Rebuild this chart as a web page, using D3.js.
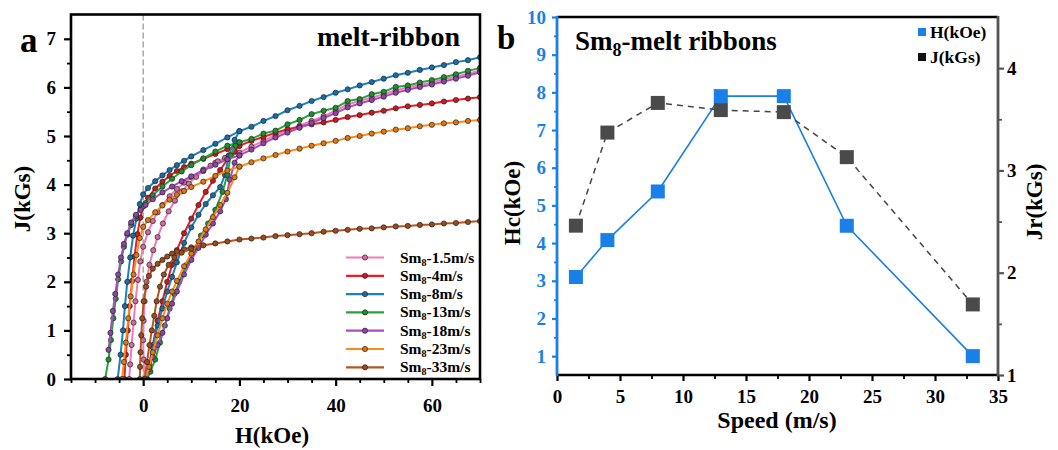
<!DOCTYPE html>
<html>
<head>
<meta charset="UTF-8">
<script src="https://d3js.org/d3.v7.min.js"></script>
<style>
  body { margin: 0; background: #fff; }
  svg text { font-family: "Liberation Serif", "Times New Roman", serif; font-weight: bold; }
</style>
</head>
<body>
<svg id="chart" width="1058" height="450"></svg>
<script>
// ---- data: panel a (J vs H loops) ----
var speedLabels = ["1.5", "4", "8", "13", "18", "23", "33"];

// high-field part of the demag branch, shared H grid (kOe)
var hGrid = [20, 22.5, 25, 27.5, 30, 32.5, 35, 37.5, 40, 42.5, 45, 47.5, 50, 52.5, 55, 57.5, 60, 62.5, 65, 67.5, 70];
var jHigh = [
  [4.66, 4.78, 4.90, 5.02, 5.11, 5.21, 5.31, 5.41, 5.52, 5.65, 5.72, 5.79, 5.86, 5.94, 6.00, 6.05, 6.10, 6.17, 6.22, 6.28, 6.35],
  [4.80, 4.90, 4.98, 5.07, 5.14, 5.19, 5.24, 5.28, 5.33, 5.39, 5.43, 5.48, 5.52, 5.57, 5.61, 5.64, 5.67, 5.71, 5.74, 5.77, 5.80],
  [5.10, 5.19, 5.31, 5.41, 5.53, 5.62, 5.72, 5.80, 5.89, 5.96, 6.04, 6.11, 6.18, 6.25, 6.30, 6.36, 6.41, 6.46, 6.52, 6.56, 6.62],
  [4.87, 4.94, 5.05, 5.11, 5.24, 5.33, 5.45, 5.52, 5.58, 5.72, 5.76, 5.86, 5.91, 6.01, 6.04, 6.10, 6.15, 6.21, 6.27, 6.34, 6.40],
  [4.60, 4.72, 4.85, 4.97, 5.07, 5.17, 5.27, 5.37, 5.47, 5.59, 5.67, 5.74, 5.81, 5.89, 5.95, 6.01, 6.06, 6.12, 6.18, 6.24, 6.31],
  [4.37, 4.46, 4.54, 4.61, 4.68, 4.74, 4.80, 4.85, 4.90, 4.96, 5.00, 5.05, 5.09, 5.13, 5.16, 5.20, 5.23, 5.26, 5.28, 5.31, 5.33],
  [2.87, 2.89, 2.91, 2.94, 2.96, 2.98, 3.00, 3.03, 3.05, 3.07, 3.09, 3.10, 3.12, 3.14, 3.15, 3.17, 3.18, 3.20, 3.21, 3.23, 3.25]
];

// low-field part of the demag branch [H, J]
var demagLow = [
  [[17.5,4.56],[15,4.45],[12.5,4.31],[10,4.15],[8.5,4.04],[7,3.91],[5.5,3.76],[4,3.58],[3,3.43],[2,3.25],[1,3.02],[0,2.72],[-0.6,2.42],[-1.1,2.04],[-1.6,1.6],[-2,1.16],[-2.4,0.7],[-2.7,0.3],[-2.9,0]],
  [[17.5,4.73],[15,4.63],[12.5,4.53],[10,4.43],[8.5,4.36],[7,4.28],[5.5,4.18],[4,4.06],[2.5,3.92],[1,3.73],[0,3.55],[-0.6,3.32],[-1.2,2.98],[-1.8,2.52],[-2.3,2.02],[-2.8,1.5],[-3.2,1.0],[-3.6,0.5],[-3.9,0]],
  [[17.5,4.97],[15,4.84],[12.5,4.71],[10,4.58],[8.5,4.49],[7,4.4],[5.5,4.3],[4,4.19],[2.5,4.07],[1,3.93],[0,3.8],[-0.7,3.6],[-1.4,3.3],[-2.1,2.95],[-2.7,2.5],[-3.3,2.0],[-3.8,1.5],[-4.2,1.0],[-4.7,0.5],[-5.3,0]],
  [[17.5,4.8],[15,4.68],[12.5,4.54],[10,4.4],[8,4.27],[6,4.12],[4,3.96],[2,3.78],[0.5,3.62],[-0.5,3.5],[-1.5,3.35],[-2.5,3.17],[-3.3,2.97],[-4,2.72],[-4.6,2.42],[-5.2,2.05],[-5.7,1.65],[-6.2,1.25],[-6.7,0.8],[-7.2,0.4],[-7.9,0]],
  [[17.5,4.52],[15,4.41],[12.5,4.29],[10,4.17],[8,4.07],[6,3.96],[4,3.84],[2,3.7],[0.5,3.58],[-0.5,3.48],[-1.5,3.38],[-2.5,3.22],[-3.3,3.0],[-4,2.78],[-4.6,2.5],[-5.2,2.15],[-5.8,1.75],[-6.3,1.4],[-6.8,0.95],[-7.2,0.6]],
  [[17.5,4.29],[15,4.18],[12.5,4.06],[10,3.95],[8.5,3.87],[7,3.79],[5.5,3.69],[4,3.57],[2.5,3.43],[1,3.27],[0,3.13],[-0.7,2.9],[-1.4,2.55],[-2,2.15],[-2.6,1.7],[-3.1,1.25],[-3.6,0.75],[-4,0.35],[-4.4,0]],
  [[17.5,2.83],[15,2.79],[12.5,2.75],[10,2.71],[8.5,2.67],[7,2.62],[6,2.58],[5,2.52],[4,2.45],[3,2.37],[2,2.27],[1.2,2.12],[0.6,1.9],[0.1,1.6],[-0.2,1.25],[-0.4,0.9],[-0.55,0.55],[-0.65,0.25],[-0.7,0]]
];

// initial magnetization branch [H, J]
var initBranch = [
  [[0.3,0],[0.1,0.4],[0,0.8],[0.1,1.2],[0.3,1.6],[0.7,2.0],[1.3,2.35],[2.1,2.65],[3,2.92],[4.1,3.2],[5.3,3.45],[6.6,3.67],[8,3.86],[9.5,4.02],[11,4.16],[12.5,4.28],[14,4.39],[15.5,4.48],[17,4.55]],
  [[0.5,0],[1.2,0.25],[2,0.7],[3,1.2],[4,1.6],[5,2.0],[6,2.35],[7,2.65],[8.5,3.0],[10,3.3],[11.5,3.58],[13,3.85],[14.5,4.08],[16,4.3],[17.5,4.52],[19,4.68],[20,4.8]],
  [[0.8,0],[1.3,0.3],[2,0.65],[3,1.1],[4,1.45],[5,1.8],[6,2.1],[7,2.4],[8.5,2.8],[10,3.12],[11.5,3.38],[13,3.6],[14.5,3.78],[16,3.95],[17,4.2],[17.8,4.6],[19,4.92],[20,5.1]],
  [[0.8,0],[1.5,0.15],[2.5,0.4],[3.5,0.75],[4.5,1.1],[5.5,1.45],[6.5,1.75],[7.5,2.0],[9,2.35],[10.5,2.65],[12,2.95],[13.5,3.2],[15,3.48],[16.5,3.85],[17.5,4.2],[18.2,4.6],[19.2,4.8],[20,4.87]],
  [[0.5,0],[1.2,0.2],[2,0.45],[3,0.7],[4,0.95],[5,1.25],[6,1.55],[7,1.8],[8.5,2.15],[10,2.45],[11.5,2.7],[13,2.97],[14.5,3.2],[16,3.45],[17.2,3.7],[18,4.1],[19,4.45],[20,4.6]],
  [[0.5,0],[1.2,0.25],[2,0.55],[3,0.9],[4,1.25],[5,1.55],[6,1.8],[7,2.02],[8.5,2.32],[10,2.58],[11.5,2.83],[13,3.08],[14.5,3.33],[16,3.58],[17.5,3.83],[19,4.15],[20,4.37]],
  [[0.3,0],[0.8,0.35],[1.3,0.7],[1.8,1.0],[2.3,1.3],[2.8,1.6],[3.5,1.9],[4.3,2.15],[5.3,2.35],[6.5,2.5],[8,2.6],[10,2.68]]
];

// ---- data: panel b ----
var speeds = [1.5, 4, 8, 13, 18, 23, 33];
var hcValues = [3.1, 4.08, 5.37, 7.9, 7.9, 4.46, 1.0];
var jrValues = [2.46, 3.37, 3.66, 3.59, 3.57, 3.13, 1.69];

var seriesColors = ["#f37ab8", "#ec1c24", "#1b80c2", "#25a53a", "#a64ebd", "#ff8a16", "#b4561f"];
var blue = "#1a7fe6";
var grey = "#4a4a4a";

var svg = d3.select("#chart");

// ================= panel a =================
var xA = d3.scaleLinear().domain([-15, 70]).range([71, 480]);
var yA = d3.scaleLinear().domain([0, 7.5]).range([379, 14.5]);

svg.append("clipPath").attr("id", "clipA")
  .append("rect").attr("x", xA(-15)).attr("y", yA(7.5))
  .attr("width", xA(70) - xA(-15)).attr("height", yA(0) - yA(7.5));

svg.append("line")
  .attr("x1", xA(0)).attr("x2", xA(0)).attr("y1", yA(7.5)).attr("y2", yA(0))
  .attr("stroke", "#9a9a9a").attr("stroke-width", 1.3).attr("stroke-dasharray", "6,3");

var lineA = d3.line().x(function(d) { return xA(d[0]); }).y(function(d) { return yA(d[1]); });
var curves = svg.append("g").attr("clip-path", "url(#clipA)");

speedLabels.forEach(function(s, i) {
  var hi = hGrid.map(function(h, k) { return [h, jHigh[i][k]]; }).reverse();
  var demag = hi.concat(demagLow[i]);
  var c = seriesColors[i];
  [demag, initBranch[i]].forEach(function(pts) {
    curves.append("path").datum(pts)
      .attr("d", lineA).attr("fill", "none")
      .attr("stroke", c).attr("stroke-width", 2);
    curves.selectAll(null).data(pts).enter().append("circle")
      .attr("cx", function(d) { return xA(d[0]); })
      .attr("cy", function(d) { return yA(d[1]); })
      .attr("r", 2.6)
      .attr("fill", d3.color(c).darker(0.4))
      .attr("stroke", "#222").attr("stroke-width", 0.7);
  });
});

// axes a
function styleAxis(g, width, color) {
  g.select(".domain").remove();
  g.selectAll(".tick line").attr("stroke", color).attr("stroke-width", width);
  g.selectAll(".tick text").attr("fill", color).attr("font-size", 19);
}
svg.append("g").attr("transform", "translate(0," + yA(0) + ")")
  .call(d3.axisBottom(xA).tickValues(d3.range(-15, 71, 5).filter(function(v) { return v % 20 !== 0; })).tickSize(4).tickFormat(""))
  .call(styleAxis, 1.8, "#000");
svg.append("g").attr("transform", "translate(0," + yA(0) + ")")
  .call(d3.axisBottom(xA).tickValues([0, 20, 40, 60]).tickSize(7).tickPadding(13).tickFormat(d3.format("d")))
  .call(styleAxis, 2.2, "#000");
svg.append("g").attr("transform", "translate(" + xA(-15) + ",0)")
  .call(d3.axisLeft(yA).tickValues(d3.range(0.5, 7.5, 1)).tickSize(4).tickFormat(""))
  .call(styleAxis, 1.8, "#000");
svg.append("g").attr("transform", "translate(" + xA(-15) + ",0)")
  .call(d3.axisLeft(yA).tickValues(d3.range(0, 8, 1)).tickSize(7).tickPadding(8).tickFormat(d3.format("d")))
  .call(styleAxis, 2.2, "#000");

svg.append("rect")
  .attr("x", xA(-15)).attr("y", yA(7.5))
  .attr("width", xA(70) - xA(-15)).attr("height", yA(0) - yA(7.5))
  .attr("fill", "none").attr("stroke", "#000").attr("stroke-width", 2.6);

svg.append("text").attr("x", 272).attr("y", 443).attr("text-anchor", "middle")
  .attr("font-size", 23).text("H(kOe)");
svg.append("text").attr("transform", "translate(30,199) rotate(-90)").attr("text-anchor", "middle")
  .attr("font-size", 23).text("J(kGs)");
svg.append("text").attr("x", 460).attr("y", 46).attr("text-anchor", "end")
  .attr("font-size", 28).text("melt-ribbon");
svg.append("text").attr("x", 20).attr("y", 52).attr("font-size", 35).text("a");

// legend a
var leg = svg.append("g");
speedLabels.forEach(function(s, i) {
  var yy = 257.5 + i * 18.3;
  leg.append("line").attr("x1", 346).attr("x2", 384).attr("y1", yy).attr("y2", yy)
    .attr("stroke", seriesColors[i]).attr("stroke-width", 2.2);
  leg.append("circle").attr("cx", 365).attr("cy", yy).attr("r", 2.6)
    .attr("fill", d3.color(seriesColors[i]).darker(0.4)).attr("stroke", "#222").attr("stroke-width", 0.7);
  var t = leg.append("text").attr("x", 400).attr("y", yy + 5).attr("font-size", 15.5);
  t.append("tspan").text("Sm");
  t.append("tspan").attr("font-size", 10).attr("dy", 3).text("8");
  t.append("tspan").attr("dy", -3).text("-" + s + "m/s");
});

// ================= panel b =================
var xB = d3.scaleLinear().domain([0, 35]).range([557, 998]);
var yHc = d3.scaleLinear().domain([0.5, 10]).range([375, 17]);
var yJr = d3.scaleLinear().domain([1, 4.5]).range([375, 17]);

svg.append("g").attr("transform", "translate(0,375)")
  .call(d3.axisBottom(xB).tickValues(d3.range(2.5, 35, 5)).tickSize(4).tickFormat(""))
  .call(styleAxis, 1.8, "#000");
svg.append("g").attr("transform", "translate(0,375)")
  .call(d3.axisBottom(xB).tickValues(d3.range(0, 36, 5)).tickSize(6).tickPadding(9).tickFormat(d3.format("d")))
  .call(styleAxis, 2.2, "#000");
svg.append("g").attr("transform", "translate(557,0)")
  .call(d3.axisLeft(yHc).tickValues(d3.range(1.5, 10, 1)).tickSize(3).tickFormat(""))
  .call(styleAxis, 1.8, blue);
svg.append("g").attr("transform", "translate(557,0)")
  .call(d3.axisLeft(yHc).tickValues(d3.range(1, 11, 1)).tickSize(5).tickPadding(6).tickFormat(d3.format("d")))
  .call(styleAxis, 2.2, blue);
svg.append("g").attr("transform", "translate(998,0)")
  .call(d3.axisRight(yJr).tickValues([1.5, 2.5, 3.5]).tickSize(4).tickFormat(""))
  .call(styleAxis, 1.8, "#555");
svg.append("g").attr("transform", "translate(998,0)")
  .call(d3.axisRight(yJr).tickValues([1, 2, 3, 4]).tickSize(6).tickPadding(3).tickFormat(d3.format("d")))
  .call(styleAxis, 2.2, "#555")
  .call(function(g) { g.selectAll(".tick text").attr("fill", "#000"); });

svg.append("line").attr("x1", 557).attr("x2", 998).attr("y1", 17).attr("y2", 17)
  .attr("stroke", "#000").attr("stroke-width", 2.6);
svg.append("line").attr("x1", 557).attr("x2", 998).attr("y1", 375).attr("y2", 375)
  .attr("stroke", "#000").attr("stroke-width", 2.6);
svg.append("line").attr("x1", 557).attr("x2", 557).attr("y1", 16).attr("y2", 376)
  .attr("stroke", blue).attr("stroke-width", 2.8);
svg.append("line").attr("x1", 998).attr("x2", 998).attr("y1", 16).attr("y2", 376)
  .attr("stroke", "#555").attr("stroke-width", 2.8);

// Hc series
var hcPts = speeds.map(function(s, i) { return [s, hcValues[i]]; });
var jrPts = speeds.map(function(s, i) { return [s, jrValues[i]]; });
svg.append("path").datum(hcPts)
  .attr("d", d3.line().x(function(d) { return xB(d[0]); }).y(function(d) { return yHc(d[1]); }))
  .attr("fill", "none").attr("stroke", blue).attr("stroke-width", 1.6);
svg.selectAll(null).data(hcPts).enter().append("rect")
  .attr("x", function(d) { return xB(d[0]) - 7; }).attr("y", function(d) { return yHc(d[1]) - 7; })
  .attr("width", 14).attr("height", 14).attr("fill", blue);

svg.append("path").datum(jrPts)
  .attr("d", d3.line().x(function(d) { return xB(d[0]); }).y(function(d) { return yJr(d[1]); }))
  .attr("fill", "none").attr("stroke", "#444").attr("stroke-width", 1.5).attr("stroke-dasharray", "6,5");
svg.selectAll(null).data(jrPts).enter().append("rect")
  .attr("x", function(d) { return xB(d[0]) - 7; }).attr("y", function(d) { return yJr(d[1]) - 7; })
  .attr("width", 14).attr("height", 14).attr("fill", grey);

// legend b
svg.append("rect").attr("x", 918).attr("y", 28).attr("width", 8).attr("height", 8).attr("fill", blue);
svg.append("text").attr("x", 930).attr("y", 38).attr("font-size", 17.5).text("H(kOe)");
svg.append("rect").attr("x", 918).attr("y", 53).attr("width", 8).attr("height", 8).attr("fill", "#111");
svg.append("text").attr("x", 930).attr("y", 63).attr("font-size", 17.5).text("J(kGs)");

// titles b
var tb = svg.append("text").attr("x", 575).attr("y", 50).attr("font-size", 27);
tb.append("tspan").text("Sm");
tb.append("tspan").attr("font-size", 18).attr("dy", 6).text("8");
tb.append("tspan").attr("dy", -6).text("-melt ribbons");

svg.append("text").attr("x", 777).attr("y", 428).attr("text-anchor", "middle")
  .attr("font-size", 24).text("Speed (m/s)");
svg.append("text").attr("transform", "translate(520,203) rotate(-90)").attr("text-anchor", "middle")
  .attr("font-size", 23).text("Hc(kOe)");
svg.append("text").attr("transform", "translate(1042,202) rotate(-90)").attr("text-anchor", "middle")
  .attr("font-size", 23).text("Jr(kGs)");
svg.append("text").attr("x", 497).attr("y", 49).attr("font-size", 33).text("b");
</script>
</body>
</html>
